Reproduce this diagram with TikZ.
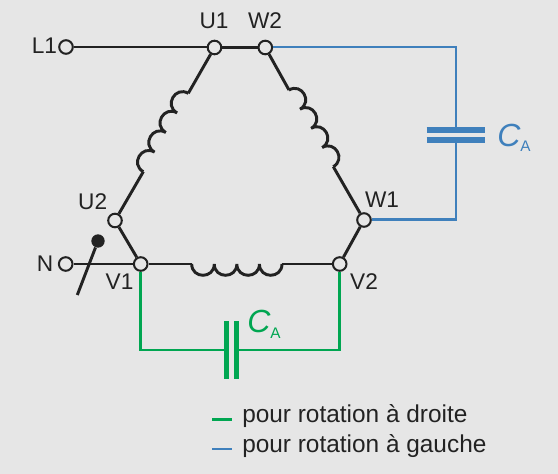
\documentclass[tikz,border=0pt]{standalone}
\usepackage{fontspec}
\setmainfont{Liberation Sans}
\usetikzlibrary{calc}
\definecolor{bgc}{HTML}{E6E6E6}
\definecolor{ink}{HTML}{222222}
\definecolor{gn}{HTML}{00A651}
\definecolor{bl}{HTML}{3F80BC}
\newcommand{\bump}[2]{.. controls ($(#1)!0.667!-90:(#2)$) and ($(#2)!0.667!90:(#1)$) .. (#2)}
\newcommand{\coil}[3]{%
  \coordinate (#1a) at ($(#2)!0.25!(#3)$);
  \coordinate (#1b) at ($(#2)!0.5!(#3)$);
  \coordinate (#1c) at ($(#2)!0.75!(#3)$);
  \draw[wire,line cap=butt] (#2) \bump{#2}{#1a} \bump{#1a}{#1b} \bump{#1b}{#1c} \bump{#1c}{#3};}
\tikzset{
  terminal/.style={circle,draw=ink,fill=bgc,line width=1.5pt,minimum size=10.2pt,inner sep=0pt},
  wire/.style={draw=ink,line width=2.2pt},
  gwire/.style={draw=gn,line width=2.1pt},
  bwire/.style={draw=bl,line width=2.1pt},
  lab/.style={text=ink,font=\fontsize{17}{20}\selectfont,anchor=base,inner sep=0pt},
  leg/.style={text=ink,font=\fontsize{18.3}{22}\selectfont,anchor=base west,inner sep=0pt},
  capsym/.style={font=\fontsize{24}{28}\selectfont\itshape,anchor=base west,inner sep=0pt},
  capsub/.style={font=\fontsize{11.5}{14}\selectfont,anchor=base west,inner sep=0pt}
}
\begin{document}
\begin{tikzpicture}[x=0.75pt,y=-0.75pt]
\useasboundingbox[fill=bgc] (0,0) rectangle (558,474);
% terminals
\node[terminal] (L1) at (66,47) {};
\node[terminal] (U1) at (214.5,47.5) {};
\node[terminal] (W2) at (265.3,47.5) {};
\node[terminal] (U2) at (115,220.5) {};
\node[terminal] (W1) at (364,220) {};
\node[terminal] (N) at (65.7,264) {};
\node[terminal] (V1) at (140.7,264) {};
\node[terminal] (V2) at (339.7,264) {};
% coil ends
\coordinate (la) at (188.3,93.3);
\coordinate (lb) at (143.3,171.7);
\coordinate (ra) at (333.3,166.7);
\coordinate (rb) at (289,90);
\coordinate (ba) at (191.7,264);
\coordinate (bb) at (282,264);
% black wires
\draw[wire] (L1) -- (L1 -| U1.west);
\draw[wire] (U1) -- (W2);
\draw[wire] (U1) -- (la);
\draw[wire] (lb) -- (U2);
\draw[wire] (W2) -- (rb);
\draw[wire] (ra) -- (W1);
\draw[wire] (U2) -- (V1);
\draw[wire] (W1) -- (V2);
\draw[wire] (N) -- (V1);
\draw[wire] (V1) -- (ba);
\draw[wire] (bb) -- (V2);
\coil{lc}{la}{lb}
\coil{rc}{ra}{rb}
\coil{mc}{ba}{bb}
% switch
\node[circle,fill=ink,minimum size=10pt,inner sep=0pt] (ball) at (98,241) {};
\coordinate (swe) at (77.3,295);
\draw[wire] (ball) -- (swe);
% blue capacitor
\coordinate (bt) at (456,47);
\coordinate (bp1) at (456,130);
\coordinate (bp2) at (456,140);
\coordinate (bcr) at (456,219.5);
\draw[bwire] (W2.east |- bt) -- (bt) -- (bp1);
\draw[bwire] (bp2) -- (bcr) -- (W1.east |- bcr);
\draw[draw=bl,line width=3.8pt] (426.7,130) -- (485,130);
\draw[draw=bl,line width=3.8pt] (426.7,140) -- (485,140);
% green capacitor
\coordinate (g1) at (140.7,350);
\coordinate (g2) at (339.7,350);
\coordinate (gp1) at (226.7,350);
\coordinate (gp2) at (236.3,350);
\draw[gwire] (V1) -- (g1) -- (gp1);
\draw[gwire] (gp2) -- (g2) -- (V2);
\draw[draw=gn,line width=3.8pt] (226.7,321) -- (226.7,379.5);
\draw[draw=gn,line width=3.8pt] (236.3,321) -- (236.3,379.5);
% labels
\node[lab] (tL1) at (44.5,54) {L1};
\node[lab] (tU1) at (214,29) {U1};
\node[lab] (tW2) at (265,29) {W2};
\node[lab] (tU2) at (92.7,209.3) {U2};
\node[lab] (tW1) at (382,208) {W1};
\node[lab] (tN) at (45,271.7) {N};
\node[lab] (tV1) at (119.5,289.3) {V1};
\node[lab] (tV2) at (364,289.3) {V2};
\node[capsym,text=bl] (cb) at (497,146.7) {C};
\node[capsub,text=bl] (cbs) at (520,151.7) {A};
\node[capsym,text=gn] (cg) at (247,333) {C};
\node[capsub,text=gn] (cgs) at (270,339) {A};
% legend
\coordinate (lg1) at (212,419.5);
\coordinate (lg2) at (232,419.5);
\coordinate (lb1) at (212,449);
\coordinate (lb2) at (232,449);
\draw[gwire] (lg1) -- (lg2);
\draw[bwire] (lb1) -- (lb2);
\node[leg] (t1) at (242,422.3) {pour rotation à droite};
\node[leg] (t2) at (242,452.3) {pour rotation à gauche};
\end{tikzpicture}
\end{document}
